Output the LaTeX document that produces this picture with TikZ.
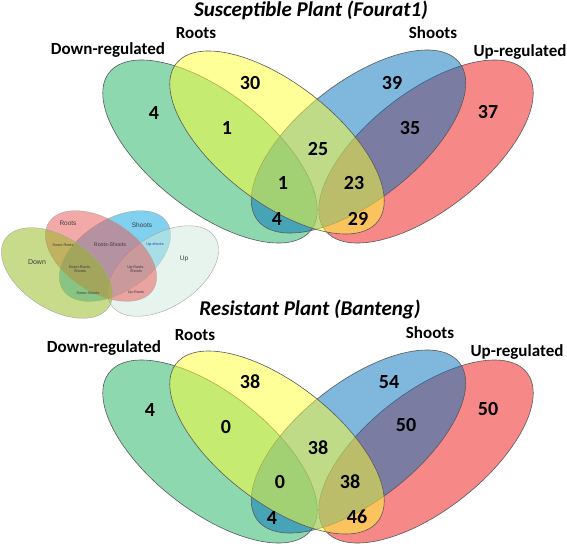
\documentclass[tikz,border=0pt]{standalone}
\usepackage{fontspec}
\setmainfont{Carlito}
\newfontfamily\legfont{Liberation Sans}
\usetikzlibrary{shapes.geometric}
\definecolor{vG}{RGB}{31,179,99}
\definecolor{vY}{RGB}{255,255,51}
\definecolor{vB}{RGB}{0,113,189}
\definecolor{vR}{RGB}{239,19,19}
\definecolor{lD}{RGB}{145,185,25}
\definecolor{lR}{RGB}{235,85,85}
\definecolor{lS}{RGB}{0,165,225}
\definecolor{lU}{RGB}{209,235,221}
\definecolor{ltxt}{RGB}{60,60,60}
\definecolor{lblue}{RGB}{40,70,170}
\begin{document}
\begin{tikzpicture}[x=1pt,y=-1pt,
 venn/.style={ellipse, inner sep=0pt, minimum width=256pt, minimum height=118pt, draw=black!65, line width=0.6pt, fill opacity=0.5, draw opacity=1},
 num/.style={font=\fontsize{20}{24}\selectfont\bfseries, inner sep=0pt},
 lab/.style={font=\fontsize{17}{20}\selectfont\bfseries, inner sep=0pt, anchor=base},
 ttl/.style={font=\fontsize{21}{25}\selectfont\bfseries\itshape, inner sep=0pt, anchor=base},
 leg/.style={ellipse, inner sep=0pt, minimum width=124pt, minimum height=72pt, draw=black!35, line width=0.4pt, fill opacity=0.5, draw opacity=1},
 lt/.style={font=\legfont\fontsize{6.5}{7}\selectfont, text=ltxt, inner sep=0pt},
 ls/.style={font=\legfont\fontsize{3.8}{4.3}\selectfont, text=ltxt, inner sep=0pt, align=center},
]
\fill[white] (0,0) rectangle (567,547);
\useasboundingbox (0,0) rectangle (567,547);

% ---------- Susceptible plant ----------
\node[venn, fill=vG, rotate=-38] (dA) at (210,151.5) {};
\node[venn, fill=vR, rotate=38]  (uA) at (426,151.5) {};
\node[venn, fill=vB, rotate=38]  (sA) at (358.5,141.5) {};
\node[venn, fill=vY, rotate=-38] (rA) at (277,142.5) {};

\node[ttl] (tA) at (311,16.7) {Susceptible Plant (Fourat1)};
\node[lab] (ldA) at (108,54) {Down-regulated};
\node[lab] (lrA) at (196,38) {Roots};
\node[lab] (lsA) at (433,38) {Shoots};
\node[lab] (luA) at (520,56) {Up-regulated};

\node[num] (a1) at (250,83) {30};
\node[num] (a2) at (392,83) {39};
\node[num] (a3) at (154,113) {4};
\node[num] (a4) at (488,112) {37};
\node[num] (a5) at (227,128) {1};
\node[num] (a6) at (410,128) {35};
\node[num] (a7) at (318,149) {25};
\node[num] (a8) at (283,183) {1};
\node[num] (a9) at (354,183) {23};
\node[num] (a10) at (277,219) {4};
\node[num] (a11) at (358,219) {29};

% ---------- Resistant plant ----------
\node[venn, fill=vG, rotate=-38] (dB) at (210,451.5) {};
\node[venn, fill=vR, rotate=38]  (uB) at (426,451.5) {};
\node[venn, fill=vB, rotate=38]  (sB) at (358.5,441.5) {};
\node[venn, fill=vY, rotate=-38] (rB) at (277,442.5) {};

\node[ttl] (tB) at (310,315) {Resistant Plant (Banteng)};
\node[lab] (ldB) at (104,352) {Down-regulated};
\node[lab] (lrB) at (195,340) {Roots};
\node[lab] (lsB) at (430,338) {Shoots};
\node[lab] (luB) at (517,356) {Up-regulated};

\node[num] (b1) at (250,382) {38};
\node[num] (b2) at (389,382) {54};
\node[num] (b3) at (150,410) {4};
\node[num] (b4) at (488,409) {50};
\node[num] (b5) at (226,427) {0};
\node[num] (b6) at (406,425) {50};
\node[num] (b7) at (318,448) {38};
\node[num] (b8) at (280,482) {0};
\node[num] (b9) at (350,482) {38};
\node[num] (b10) at (272,518) {4};
\node[num] (b11) at (357,517) {46};

% ---------- Legend ----------
\node[leg, fill=lS, rotate=33]  (gS) at (115,256) {};
\node[leg, fill=lU, rotate=33]  (gU) at (163,271) {};
\node[leg, fill=lR, rotate=-33] (gR) at (101,256) {};
\node[leg, fill=lD, rotate=-33] (gD) at (57,273) {};

\node[lt] (gtR) at (68,223) {Roots};
\node[lt] (gtS) at (142,225) {Shoots};
\node[lt, font=\legfont\fontsize{7}{8}\selectfont] (gtD) at (37,262) {Down};
\node[lt] (gtU) at (184,259) {Up};
\node[lt, font=\legfont\fontsize{5.3}{6}\selectfont] (gtRS) at (110,245) {Roots-Shoots};
\node[ls] (gtDR) at (63,245) {Down-Roots};
\node[ls, text=lblue] (gtUS) at (155,245) {Up-shoots};
\node[ls] (gtDRS) at (80,269) {Down-Roots-\\Shoots};
\node[ls] (gtURS) at (136,269) {Up-Roots-\\Shoots};
\node[ls] (gtDS) at (88,293) {Down-Shoots};
\node[ls] (gtUR) at (136,293) {Up-Roots};
\end{tikzpicture}
\end{document}
